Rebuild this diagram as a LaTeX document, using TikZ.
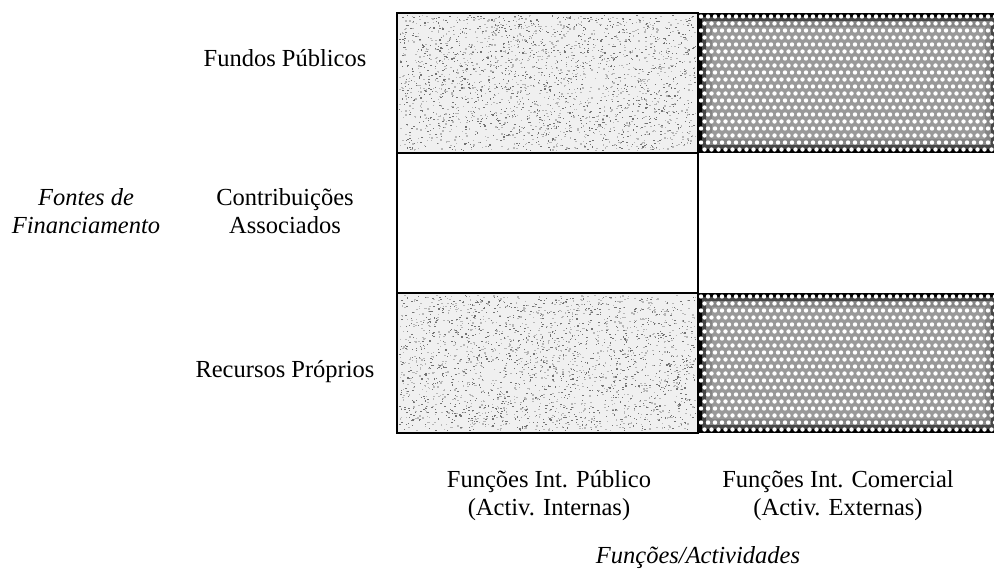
\documentclass[tikz,border=0pt]{standalone}
\usepackage{fontspec}
\setmainfont{Liberation Serif}
\usetikzlibrary{calc}

% halftone cell: black rim, grey core, white dot screen
\newcommand\halftonecell[1]{%
  \fill[black] (#1.north west) rectangle (#1.south east);
  \fill[black!72] ($(#1.north west)+(4,4)$) rectangle ($(#1.south east)+(-4,-4)$);
  \fill[black!48] ($(#1.north west)+(8,8)$) rectangle ($(#1.south east)+(-8,-8)$);
  \fill[black!40] ($(#1.north west)+(14,14)$) rectangle ($(#1.south east)+(-14,-14)$);
  \begin{scope}
    \clip (#1.north west) rectangle (#1.south east);
    \path (#1.north west) coordinate (hc0);
    \foreach \r in {0,...,20}{
      \foreach \c in {0,...,43}{
        \fill[white] ($(hc0)+({3.5*mod(\r,2)+7*\c+3},{7*\r+3.5})$) circle (2.2);
      }
    }
  \end{scope}}

% stippled cell: light base with random grey specks
\newcommand\stipplecell[1]{%
  \fill[black!6] (#1.north west) rectangle (#1.south east);
  \path (#1.north west) coordinate (sc0);
  \foreach \i in {1,...,1200}{
    \fill[black!55] ($(sc0)+({2+296*rnd},{2+135*rnd})$) rectangle ++(1.4,1.1);
  }
  \foreach \i in {1,...,1300}{
    \fill[black!28] ($(sc0)+({2+296*rnd},{2+135*rnd})$) rectangle ++(1.6,1.2);
  }}

\begin{document}
\begin{tikzpicture}[x=1pt,y=-1pt,
  cell/.style={draw=none, inner sep=0pt, outer sep=0pt,
    minimum width=301pt, minimum height=140pt, anchor=north west},
  lbl/.style={font=\fontsize{24.5}{28}\selectfont, align=center, inner sep=0pt},
  ital/.style={font=\fontsize{24.5}{28}\selectfont\itshape, align=center, inner sep=0pt},
  gridline/.style={line width=2.6pt, line cap=rect}]

\useasboundingbox (0,0) rectangle (994,572);
\pgfmathsetseed{2718}

% matrix cells
\node[cell] (fp-pub) at (397,13)  {};
\node[cell] (fp-com) at (698,13)  {};
\node[cell] (ca-pub) at (397,153) {};
\node[cell] (ca-com) at (698,153) {};
\node[cell] (rp-pub) at (397,293) {};
\node[cell] (rp-com) at (698,293) {};

\stipplecell{fp-pub}
\stipplecell{rp-pub}
\halftonecell{fp-com}
\halftonecell{rp-com}

% left column frame and row separators
\draw[gridline] (fp-pub.north west) rectangle (rp-pub.south east);
\draw[gridline] (ca-pub.north west) -- (ca-pub.north east);
\draw[gridline] (rp-pub.north west) -- (rp-pub.north east);

% row labels
\node[lbl] (fundos) at (285,58.5) {Fundos Públicos};
\node[lbl] (contrib) at (285,211) {Contribuições\\Associados};
\node[lbl] (recursos) at (285,372) {Recursos Próprios};
\node[ital] (fontes) at (86,211) {Fontes de\\Financiamento};

% column labels
\node[lbl] (colpub) at (549,496) {Funções Int. Público\\(Activ. Internas)};
\node[lbl] (colcom) at (838,496) {Funções Int. Comercial\\(Activ. Externas)};
\node[ital] (funcoes) at (698,558) {Funções/Actividades};

\end{tikzpicture}
\end{document}
